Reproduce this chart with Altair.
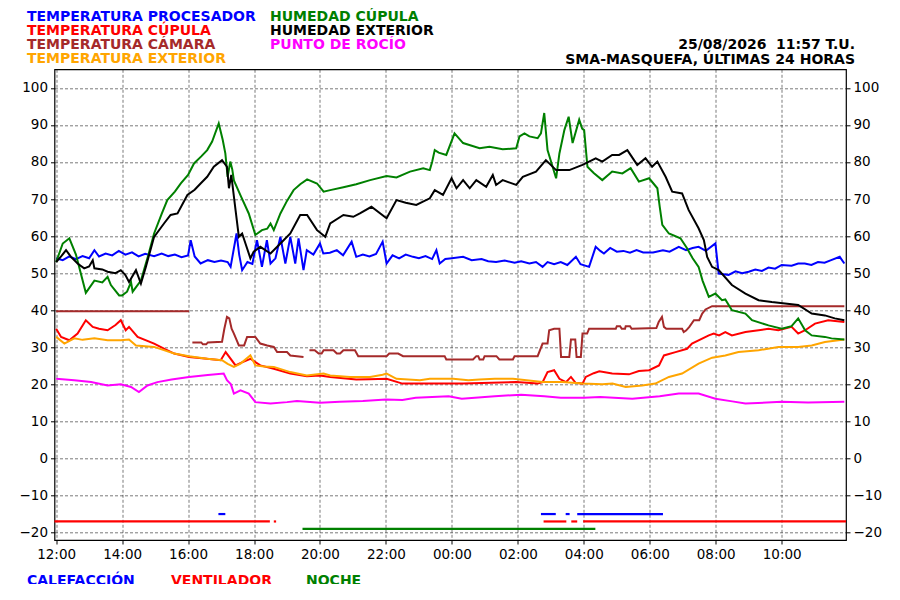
import altair as alt
import pandas as pd

# ---- data: (hours since 12:00, value) ----
T_PROC = [(0,54),(0.2,53.5),(0.4,54.5),(0.6,53.8),(0.8,54.6),(1.0,54),(1.16,56.2),(1.3,54.5),(1.5,55.3),(1.7,54.8),
          (1.9,56),(2.1,55),(2.3,55.6),(2.5,54.5),(2.7,55.2),(2.97,54.6),(3.2,55.3),(3.4,54.6),(3.6,55),(3.8,54.3),
          (4.0,54.8),(4.08,58.9),(4.2,54.5),(4.38,52.6),(4.6,53.5),(4.8,53),(5.0,53.4),(5.2,53),(5.29,51.7),(5.47,60.7),
          (5.55,55),(5.64,50.8),(5.8,53),(5.95,52.5),(6.09,58.9),(6.24,51.7),(6.39,58.9),(6.5,52.6),(6.65,54),(6.8,59.8),
          (6.95,52.6),(7.1,59.8),(7.25,52.6),(7.35,59.4),(7.5,50.8),(7.6,56.2),(7.8,55),(8.0,58),(8.1,55.3),(8.3,55.5),
          (8.51,56.2),(8.7,54.8),(8.96,58.5),(9.1,54.4),(9.3,55),(9.5,54.5),(9.7,55.2),(9.9,58.5),(10.02,52.6),(10.2,54.8),
          (10.4,54),(10.6,55),(10.82,54.4),(11.0,54),(11.2,54.6),(11.4,53.8),(11.53,56.2),(11.63,52.6),(11.8,53.8),(12.0,54),
          (12.34,54.4),(12.6,53.5),(12.9,53.8),(13.1,53.2),(13.34,53),(13.6,53.4),(13.9,52.8),(14.1,53.2),(14.35,52.6),(14.55,53),
          (14.75,51.7),(14.9,53),(15.1,52.4),(15.3,53),(15.5,52.2),(15.76,54.4),(15.9,52.4),(16.16,51.7),(16.36,57.1),(16.5,56),
          (16.61,55.3),(16.8,56.8),(17.0,55.8),(17.2,56),(17.4,55.5),(17.6,56.2),(17.8,55.6),(18.1,55.6),(18.4,56.2),(18.6,55.8),
          (18.88,57.1),(19.1,56.2),(19.3,56.8),(19.48,57.1),(19.7,56),(19.99,58),(20.09,49.9),(20.39,49.5),(20.6,50.5),(20.8,50),
          (21.0,50.4),(21.2,51),(21.4,50.6),(21.6,51.5),(21.8,51.2),(22.0,52.2),(22.3,52),(22.5,52.6),(22.7,52.6),(22.9,52.2),
          (23.1,53),(23.3,52.8),(23.5,53.5),(23.76,54.4),(23.9,52.6)]

T_CUPULA = [(0,35),(0.15,32.8),(0.4,31.9),(0.65,33.7),(0.9,37.3),(1.11,35.5),(1.3,35),(1.56,34.6),(1.8,36),(1.96,37.3),
            (2.11,34.6),(2.21,35.5),(2.47,32.8),(2.97,31),(3.3,29.5),(3.58,28.3),(4.03,27.4),(4.5,27),(4.99,26.5),(5.14,28.7),
            (5.44,25.1),(5.6,25.8),(5.89,26.9),(6.19,25.1),(6.6,24.2),(7.1,22.9),(7.6,22.2),(8.0,22.4),(8.31,22),(9.1,21.3),
            (9.5,21.4),(10.02,21.5),(10.5,20.2),(10.82,20.2),(12.34,20.2),(13.95,20.6),(14.6,20.2),(14.75,20.6),(14.9,23.3),(15.1,23.8),
            (15.26,21.5),(15.46,20.6),(15.61,22),(15.75,20.4),(15.96,20.2),(16.06,22),(16.3,23),(16.47,23.5),(16.86,22.9),(17.37,22.7),
            (17.67,23.6),(17.98,23.8),(18.28,25.1),(18.43,27.8),(18.78,28.7),(19.13,29.6),(19.28,31),(19.79,33.2),(19.94,33.7),(20.1,33.2),
            (20.29,34.1),(20.49,33.2),(20.9,34.1),(21.3,34.6),(21.6,35),(21.9,34.6),(22.3,35.5),(22.5,33.7),(22.71,34.6),(23.01,36.4),
            (23.41,37.3),(23.9,36.8)]

# camera temperature, split in segments (gaps in the record)
T_CAMARA = [
    [(0,39.7),(4.03,39.7)],
    [(4.13,31.3),(4.4,31.3),(4.45,30.8),(4.55,30.8),(4.6,31.3),(5.03,31.5),(5.1,35),(5.18,38.2),(5.25,37.8),(5.32,35),
     (5.39,33.7),(5.47,32),(5.54,30.5),(5.7,30.5),(5.79,32.8),(6.04,32.8),(6.19,31),(6.4,30.5),(6.6,30.1),(6.7,28.7),
     (7.0,28.7),(7.1,27.8),(7.5,27.4)],
    [(7.68,29.2),(7.84,29.2),(7.96,28.3),(8.05,28.3),(8.11,29.2),(8.41,29.2),(8.51,28.3),(8.61,28.3),(8.71,29.2),(9.06,29.2),
     (9.16,27.6),(10.02,27.6),(10.1,28.3),(10.37,28.3),(10.52,27.6),(11.78,27.6),(11.83,26.7),(12.64,26.7),(12.74,27.6),(12.8,27.6),
     (12.84,26.7),(12.95,26.7),(12.99,27.6),(13.35,27.6),(13.44,26.7),(13.85,26.7),(13.9,27.6),(14.6,27.6),(14.75,31),(14.9,31),
     (14.95,34.6),(15.1,35),(15.26,35),(15.31,27.4),(15.56,27.4),(15.61,32.1),(15.74,32.1),(15.78,27.4),(15.91,27.4),(15.96,33.7),
     (16.1,33.7),(16.16,35),(16.97,35),(17.0,35.7),(17.1,35.7),(17.15,35),(17.25,35),(17.27,35.7),(17.4,35.7),(17.45,35),
     (18.2,35.2),(18.27,36.8),(18.37,38.2),(18.43,35.5),(18.5,35),(18.98,35),(19.03,34.1),(19.1,34.5),(19.2,35.5),(19.34,37.3),
     (19.5,37.3),(19.59,39.1),(19.69,40.2),(19.89,41.1),(23.9,41.1)],
]

T_EXTERIOR = [(0,32.8),(0.25,31),(0.55,32.4),(0.8,32),(1.16,32.4),(1.56,31.9),(1.96,31.9),(2.21,32.1),(2.42,30.5),(2.97,30.1),
              (3.58,28.3),(4.03,27.6),(4.58,26.9),(5.03,26.5),(5.2,25.5),(5.39,24.7),(5.59,25.6),(5.89,27.8),(6.04,25.1),(6.3,24.8),
              (6.6,24.7),(7.1,23.3),(7.6,22.4),(8.11,22.9),(8.31,22.4),(8.91,22),(9.52,22),(9.9,22.6),(10.02,22.9),(10.32,21.5),
              (11.03,21.1),(11.33,21.5),(12.04,21.5),(12.5,21.1),(12.84,21.3),(13.3,21.5),(13.85,21.5),(14.75,20.6),(15.36,20.6),(15.96,20.2),
              (16.56,20),(16.87,20.2),(17.27,19.3),(17.77,19.7),(18.17,20.2),(18.58,22),(18.98,22.9),(19.48,25.6),(19.89,27.2),(20.29,27.8),
              (20.69,28.7),(21.3,29.2),(21.9,30.1),(22.5,30.1),(22.91,30.5),(23.31,31.4),(23.9,32.1)]

H_CUPULA = [(0,53),(0.2,58),(0.4,59.4),(0.6,55),(0.9,44.7),(1.16,48),(1.4,47.5),(1.56,49),(1.66,46.8),(1.91,44),
            (2.0,44),(2.15,45),(2.27,47.6),(2.32,45),(2.57,48),(2.8,55),(2.97,60.7),(3.2,66),(3.37,69.7),(3.6,72),
            (3.78,74.2),(4.0,76.5),(4.18,79.6),(4.4,81.5),(4.58,83.2),(4.73,85.5),(4.93,90.4),(5.05,86),(5.13,82.3),(5.2,76),
            (5.28,80.1),(5.34,78),(5.39,75),(5.59,71),(5.84,66.1),(6.04,60.3),(6.24,61.6),(6.4,62),(6.5,63.4),(6.6,61.6),
            (6.8,66.1),(7.0,69.5),(7.2,72.4),(7.4,74),(7.61,75.3),(7.91,74.2),(8.11,72),(8.31,72.4),(8.71,73.2),(9.1,74),
            (9.52,75.1),(10.02,76.2),(10.32,75.8),(10.73,77.4),(11.13,78.3),(11.33,77.8),(11.4,80),(11.48,83.2),(11.6,82.5),(11.83,81.9),
            (12.08,87.7),(12.34,85.1),(12.84,83.7),(13.14,84.1),(13.54,83.4),(13.95,83.7),(14.05,86.9),(14.2,87.7),(14.35,86.9),(14.6,86.4),
            (14.7,87.7),(14.8,93.2),(14.9,83.2),(15.16,75.6),(15.26,82.3),(15.41,88.6),(15.54,92.2),(15.66,85.1),(15.86,91.4),(15.95,89),
            (16.01,88.6),(16.11,78.7),(16.3,77),(16.56,75.1),(16.86,77.4),(17.17,76.9),(17.42,78.3),(17.67,74.7),(17.98,75.6),(18.23,72.9),
            (18.3,68),(18.38,63),(18.58,60.7),(18.93,59.4),(19.13,56.7),(19.3,54),(19.48,51.7),(19.6,48),(19.79,43.6),(19.99,44.5),
            (20.19,42.7),(20.29,42.9),(20.49,40),(20.9,39.1),(21.1,37.3),(21.6,35.9),(22.0,35),(22.3,35.7),(22.5,37.8),(22.71,34.6),
            (22.91,33.2),(23.31,32.8),(23.51,32.4),(23.9,32.1)]

H_EXTERIOR = [(0,53),(0.15,54.5),(0.3,56.2),(0.45,54.4),(0.65,52.6),(0.85,51.3),(1.0,51.8),(1.11,53.5),(1.16,51.3),(1.4,51),
              (1.56,50.4),(1.8,50),(1.96,50.8),(2.1,49.5),(2.21,47.6),(2.42,50.8),(2.57,47.2),(2.72,51.7),(2.97,59.8),(3.27,63.4),
              (3.47,65.7),(3.68,66.1),(3.98,71.1),(4.2,72.5),(4.38,74.2),(4.58,76),(4.78,78.7),(5.03,80.5),(5.18,78.7),(5.24,72.9),
              (5.31,76.5),(5.44,67),(5.54,59.8),(5.64,60.7),(5.89,54),(5.99,55.8),(6.19,57.1),(6.5,55.3),(6.8,58),(7.1,60.7),
              (7.4,65.7),(7.61,65.7),(7.91,61.6),(8.16,59.8),(8.31,63.4),(8.71,65.7),(9.01,65.2),(9.21,66.1),(9.56,67.9),(10.02,64.8),
              (10.32,69.7),(10.6,69),(10.92,68.4),(11.33,70.2),(11.48,72.4),(11.73,71.1),(11.99,75.6),(12.14,72.9),(12.34,75.1),(12.54,72.9),
              (12.74,75.1),(13.04,73.3),(13.24,76.5),(13.34,73.8),(13.54,75.1),(13.95,73.8),(14.15,76),(14.55,77.4),(14.85,80.5),(15.16,77.8),
              (15.56,77.8),(15.96,79.2),(16.16,80.1),(16.36,81),(16.56,80.1),(16.86,81.9),(17.07,81.9),(17.32,83.2),(17.62,79.2),(17.87,81),
              (18.07,78.7),(18.23,80.1),(18.48,76),(18.68,72),(18.98,71.5),(19.18,67),(19.48,62.1),(19.64,58.9),(19.74,54.4),(19.89,51.7),
              (20.09,50.8),(20.49,46.8),(20.9,44.5),(21.3,42.7),(21.7,42.2),(22.1,41.8),(22.5,41.4),(22.91,39.1),(23.31,38.6),(23.61,37.8),
              (23.9,37.3)]

ROCIO = [(0,21.5),(0.55,21.1),(1.06,20.6),(1.56,19.7),(1.96,20),(2.27,19.3),(2.51,17.9),(2.77,19.7),(3.07,20.6),(3.5,21.3),
         (4.03,22),(4.6,22.5),(5.08,22.9),(5.18,21.1),(5.3,20),(5.39,17.5),(5.59,18.4),(5.84,17.5),(6.04,15.2),(6.5,14.8),
         (7.0,15.2),(7.3,15.5),(8.0,15),(8.6,15.3),(9.3,15.5),(10.0,15.9),(10.5,15.8),(10.9,16.4),(11.9,16.8),(12.3,16.1),
         (13.3,16.8),(14.1,17.2),(14.8,16.8),(15.3,16.4),(16.0,16.4),(16.5,16.6),(17.47,16.1),(18.3,16.8),(18.88,17.5),(19.48,17.5),
         (19.99,16.1),(20.5,15.4),(20.9,14.8),(22,15.3),(22.8,15.1),(23.9,15.3)]

# on/off states: (start hour, end hour)
CALEFACCION = [(4.92, 5.13), (14.7, 15.15), (15.45, 15.57), (15.8, 18.4)]
VENTILADOR = [(-0.05, 6.48), (6.6, 6.67), (14.78, 15.47), (15.62, 15.8), (15.98, 23.95)]
NOCHE = [(7.47, 16.35)]
STATE_LEVEL = {"CALEFACCION": -15, "VENTILADOR": -17, "NOCHE": -19}

X_TICKS = [0, 2, 4, 6, 8, 10, 12, 14, 16, 18, 20, 22]
Y_TICKS = [-20, -10, 0, 10, 20, 30, 40, 50, 60, 70, 80, 90, 100]

# ---- layout ----
W, H = 791.5, 470.7
FONT = "DejaVu Sans"

xscale = alt.Scale(domain=[-0.05, 23.95], nice=False, zero=False)
yscale = alt.Scale(domain=[-22, 105], nice=False, zero=False)

GRID = dict(gridColor="black", gridOpacity=0.75, gridWidth=0.7, gridDash=[3, 2])
LAB = dict(labelFont=FONT, labelFontSize=13.5, labelColor="black", labelPadding=3,
           tickColor="black", tickSize=4, domain=False)

xaxis = alt.Axis(values=X_TICKS, title=None, grid=True, orient="bottom",
                 labelExpr="(((datum.value+12)%24)<10?'0':'')+((datum.value+12)%24)+':00'",
                 **LAB, **GRID)

def yaxis(orient, grid):
    return alt.Axis(values=Y_TICKS, title=None, orient=orient, grid=grid,
                    labelExpr="replace(datum.label, '-', '\u2212')", **LAB, **GRID)

def series_df(pairs, seg=0):
    return pd.DataFrame({"h": [p[0] for p in pairs], "v": [p[1] for p in pairs], "seg": seg})

def line(df, color, y_axis=None):
    return alt.Chart(df).mark_line(color=color, strokeWidth=2).encode(
        x=alt.X("h:Q", scale=xscale, axis=xaxis),
        y=alt.Y("v:Q", scale=yscale, axis=y_axis),
        detail="seg:N",
        order="h:Q",
    )

cam_df = pd.concat([series_df(s, i) for i, s in enumerate(T_CAMARA)], ignore_index=True)

layers = [
    line(series_df(T_PROC), "#0000ff", y_axis=yaxis("left", True)),
    line(series_df(T_CUPULA), "#ff0000", y_axis=yaxis("right", False)),
    line(cam_df, "#a52a2a"),
    line(series_df(T_EXTERIOR), "#ffa500"),
    line(series_df(H_CUPULA), "#008000"),
    line(series_df(H_EXTERIOR), "#000000"),
    line(series_df(ROCIO), "#ff00ff"),
]

def states_df(spans, level):
    return pd.DataFrame({"a": [s[0] for s in spans], "b": [s[1] for s in spans], "y": level})

for spans, name, color in [(VENTILADOR, "VENTILADOR", "#ff0000"),
                           (CALEFACCION, "CALEFACCION", "#0000ff"),
                           (NOCHE, "NOCHE", "#008000")]:
    layers.append(
        alt.Chart(states_df(spans, STATE_LEVEL[name])).mark_rule(color=color, strokeWidth=2.2).encode(
            x=alt.X("a:Q", scale=xscale, axis=xaxis),
            x2="b:Q",
            y=alt.Y("y:Q", scale=yscale, axis=None),
        )
    )

def label(text, x, y, color, align="left"):
    return alt.Chart(alt.Data(values=[{}])).mark_text(
        text=text, align=align, baseline="alphabetic", font=FONT, fontSize=14,
        fontWeight="bold", color=color,
    ).encode(x=alt.value(x), y=alt.value(y))

OX, OY = 54.5, 69.3  # page position of plot origin
labels = [
    ("TEMPERATURA PROCESADOR", 27, 20.5, "#0000ff", "left"),
    ("TEMPERATURA CÚPULA", 27, 34.5, "#ff0000", "left"),
    ("TEMPERATURA CÁMARA", 27, 48.7, "#a52a2a", "left"),
    ("TEMPERATURA EXTERIOR", 27, 63.3, "#ffa500", "left"),
    ("HUMEDAD CÚPULA", 270, 20.5, "#008000", "left"),
    ("HUMEDAD EXTERIOR", 270, 34.5, "#000000", "left"),
    ("PUNTO DE ROCÍO", 270, 48.7, "#ff00ff", "left"),
    ("25/08/2026\u00a0\u00a011:57 T.U.", 855, 49.3, "#000000", "right"),
    ("SMA-MASQUEFA, ÚLTIMAS 24 HORAS", 855, 64, "#000000", "right"),
    ("CALEFACCIÓN", 27, 584.5, "#0000ff", "left"),
    ("VENTILADOR", 171, 584.5, "#ff0000", "left"),
    ("NOCHE", 306, 584.5, "#008000", "left"),
]
for t, x, y, c, a in labels:
    layers.append(label(t, x - OX, y - OY, c, a))

chart = alt.layer(*layers).resolve_scale(y="independent").properties(
    width=W, height=H,
    autosize=alt.AutoSizeParams(type="none"),
    padding={"left": OX - 8, "top": OY - 8, "right": 900 - 16 - OX - W, "bottom": 600 - 16 - OY - H},
    background="white",
).configure_view(stroke="black", strokeWidth=1.2)

chart.save("out.html", embed_options={"renderer": "svg", "actions": False})
